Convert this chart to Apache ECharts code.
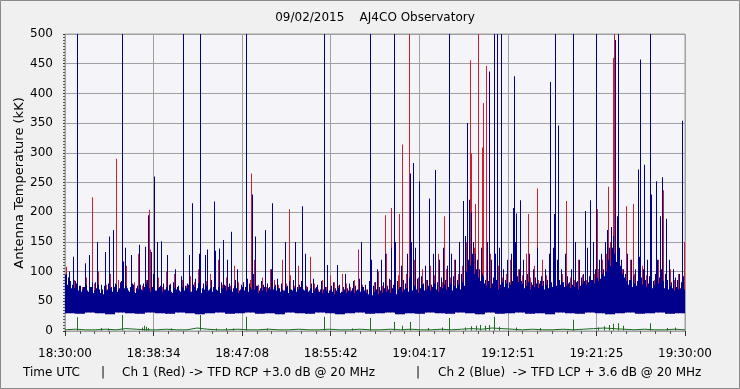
<!DOCTYPE html>
<html><head><meta charset="utf-8">
<script src="https://cdn.jsdelivr.net/npm/echarts@6/dist/echarts.min.js"></script>
<style>html,body{margin:0;padding:0;background:#F0F0F0}#c{width:740px;height:389px}</style>
</head><body><div id="c"></div><script>
// ---- tick labels ----
const tickLabels = ['18:30:00','18:38:34','18:47:08','18:55:42','19:04:17','19:12:51','19:21:25','19:30:00'];
const yMin = 0, yMax = 500, yStep = 50;

// ---- Ch 2 (blue): per 2 px bin, first pixel top (strokes) ----
const blueTop = [
95,78,100,72,125,84,120,76,66,74, 114,68,128,74,64,82,150,70,78,62,
133,70,159,74,170,80,66,72,84,117, 140,72,66,128,78,64,76,145,70,80,
142,86,72,133,96,68,150,74,151,80, 70,128,78,66,82,104,74,68,92,145,
76,80,128,66,78,88,72,130,64,80, 128,137,70,86,74,135,68,139,82,153,
76,120,80,167,72,86,104,68,78,82, 74,88,80,70,96,159,76,68,84,78,
170,80,74,104,70,78,88,72,80,68, 150,76,84,70,86,150,74,78,84,70,
130,74,68,80,88,72,78,66,84,70, 74,111,68,76,82,72,111,78,66,74,
96,72,80,68,84,76,70,88,150,74, 78,70,84,120,76,82,104,74,120,82,
130,76,88,140,78,150,84,74,110,86, 80,130,90,150,78,140,88,120,92,80,
110,86,140,78,130,92,82,120,90,140, 86,110,82,130,92,120,86,150,96,140,
160,190,175,200,150,130,120,104,140,92, 86,150,104,120,90,130,86,140,92,104,
86,120,82,130,90,150,92,104,84,120, 86,96,130,82,104,90,140,80,92,84,
104,86,130,82,140,92,120,86,104,82, 130,92,82,104,86,150,84,120,90,96,
84,140,92,86,150,104,90,120,130,104, 150,170,140,175,160,150,130,140,120,104,
96,130,86,120,92,104,84,125,90,104, 86,120,92,130,84,96,120,90,104,84,
96,86,120,82,104,90,86,96,82,92
];
// ---- Ch 2 (blue): per 2 px bin, second pixel top (dense part) ----
const blueTop2 = [
96,90,84,78,72,80,68,76,70,74, 78,66,74,82,68,72,78,64,70,76,
68,80,72,66,74,78,70,82,64,72, 76,68,74,80,66,72,70,78,68,74,
80,70,66,74,78,68,72,76,66,70, 74,68,78,64,72,70,76,66,74,68,
72,78,66,70,74,68,80,64,72,70, 76,68,72,66,78,70,74,64,72,78,
68,74,70,66,76,72,64,70,74,68, 72,66,74,68,70,76,64,72,68,74,
66,72,70,64,74,68,72,66,70,68, 74,64,70,68,72,66,70,74,64,68,
70,66,72,64,68,74,66,70,64,72, 68,64,70,66,62,68,72,64,66,70,
64,68,66,72,64,68,70,66,74,68, 64,62,68,60,66,70,62,68,64,72,
66,70,64,72,68,62,70,74,66,70, 72,66,74,68,76,70,64,72,78,68,
70,76,68,74,80,70,66,74,72,78, 70,74,80,68,76,72,78,70,82,76,
100,120,110,130,96,104,90,84,96,80, 76,84,72,80,74,86,70,78,82,74,
80,72,78,84,70,76,82,74,80,72, 76,82,70,78,74,80,72,84,76,70,
78,72,80,74,84,76,70,78,82,74, 76,80,72,78,74,82,70,76,80,84,
78,82,76,86,80,90,84,88,96,92, 100,120,110,140,130,116,104,110,96,90,
84,78,86,74,80,76,82,72,78,80, 74,80,76,72,78,74,80,70,76,72,
74,70,76,72,68,74,70,72,66,70
];
// band floor per 10 px
const blueFloor = [
30,29,31,30,28,31,30,29,31,30, 29,31,30,28,30,31,29,30,31,29,
30,28,31,30,29,31,30,28,30,31, 29,30,31,28,30,29,31,30,29,31,
30,28,31,29,30,31,29,30,28,31, 30,29,31,30,28,30,31,29,30,31,
29,30
];
// ---- Ch 1 (red): stroke top value per 4 px bin ----
const redTop = [
108,70,86,62,74,90,66,80,100,64, 78,96,64,86,72,110,68,82,130,76,
86,137,78,90,74,100,80,96,70,86, 76,92,82,104,70,84,96,74,120,78,
90,76,110,82,74,96,86,120,78,90, 74,104,86,78,120,80,94,76,110,82,
76,125,80,70,86,74,94,82,76,96, 80,74,86,137,78,70,90,82,100,76,
130,86,104,94,140,96,86,120,90,104, 86,110,94,130,82,104,90,120,96,110,
150,130,140,110,120,104,130,96,110,90, 96,120,86,104,94,130,90,110,86,120,
94,104,86,130,96,110,90,86,120,94, 86,110,96,104,120,130,150,140,120,104,
90,120,96,86,110,94,104,86,120,96, 90,104,86,96,120
];
// ---- spikes: minutes after 18:30:00 and value (kK) ----
const blueSpikeMin = [1.16,5.47,8.03,8.64,11.38,12.29,13.10,14.39,17.52,18.13,20.03,22.96,25.06,29.56,31.87,33.36,33.71,34.29,35.25,35.84,37.19,38.55,38.93,39.05,41.03,41.55,41.84,42.22,43.38,43.48,43.65,44.06,46.96,47.35,47.45,47.74,49.19,50.35,50.81,51.36,53.23,53.39,53.55,55.48,55.67,56.06,56.64,56.71,57.22,57.55,57.80,58.19,59.74];
const blueSpikeVal = [500,500,195,260,500,215,500,218,500,230,215,210,500,500,500,265,283,252,223,271,500,219,350,221,437,500,500,500,207,429,198,220,419,197,500,346,500,202,220,500,490,193,500,272,457,280,500,230,252,193,259,189,354];
const redSpikeMin = [2.61,4.89,8.13,17.98,21.65,30.97,31.52,32.32,32.64,33.32,36.71,39.22,39.29,39.71,40.00,40.33,40.48,40.77,44.84,45.71,48.51,51.51,52.58,53.06,53.16,54.32,55.00,57.87,59.90];
const redSpikeVal = [225,290,204,265,205,195,207,197,314,500,193,456,299,214,500,309,384,446,197,240,219,205,243,460,500,210,214,237,150];
// ---- green reference channel ----
const greenBase = [
2,3,2,2,3,2,4,3,2,2, 3,2,2,5,3,2,2,3,2,2, 3,2,2,3,2,2,3,2,2,3,
2,2,3,2,3,2,2,3,2,3, 4,3,5,4,3,2,3,2,2,3, 2,3,4,5,4,3,2,3,2,2,
3,2
];
const greenSpikeMin = [1.16,3.5,4.2,5.47,7.45,7.65,7.85,8.05,10.3,13.10,14.6,15.6,16.3,17.52,19.5,25.06,27.8,29.56,31.84,32.6,33.39,35.1,36.5,37.19,38.7,39.3,39.8,40.2,40.6,41.0,41.52,42.0,43.6,46.0,49.19,51.6,52.2,52.6,53.0,53.52,54.0,56.61,58.3,59.0];
const greenSpikeVal = [23,5,4,27,6,9,7,5,4,27,4,5,4,24,4,24,4,22,15,9,15,5,6,22,6,8,9,10,9,10,24,7,6,5,19,6,8,10,12,13,9,13,5,6];

// ---- build ----
const X = m => m * 7 / 60;
function pick(arr, i, n){ return arr[Math.min(arr.length-1, Math.floor(i*arr.length/n))]; }
function bandData(tops, tops2, floors){
  const n = tops.length;
  return tops.map((t,i)=>[X((i+0.5)*60/n), pick(floors,i,n), t, tops2 ? tops2[i] : null]);
}
function bandRender(color){
  return function(params, api){
    const x = api.value(0);
    const pTop = api.coord([x, api.value(2)]);
    const pBot = api.coord([x, api.value(1)]);
    const x0 = Math.round(pTop[0] - 1);
    const kids = [{type:'rect', shape:{x:x0, y:pTop[1], width:1, height:pBot[1]-pTop[1]}, style:{fill:color}}];
    const v2 = api.value(3);
    if (!isNaN(v2) && v2 !== null) {
      const p2 = api.coord([x, v2]);
      kids.push({type:'rect', shape:{x:x0+1, y:p2[1], width:1, height:pBot[1]-p2[1]}, style:{fill:color}});
    }
    return {type:'group', children:kids};
  };
}
function pairs(ms, vs){ return ms.map((m,i)=>[X(m), vs[i]]); }
function spikeRender(color, base){
  return function(params, api){
    const p = api.coord([api.value(0), api.value(1)]);
    const b = api.coord([api.value(0), base]);
    return {type:'rect', shape:{x:Math.round(p[0]), y:p[1], width:1, height:b[1]-p[1]}, style:{fill:color}};
  };
}
const BLUE='#00008C', RED='#CC2030', GREEN='#1E6B1E';
const FONT='DejaVu Sans';
const chart = echarts.init(document.getElementById('c'), null, {renderer:'canvas'});
chart.setOption({
  animation:false,
  backgroundColor:'#F0F0F0',
  grid:{left:65, right:55, top:34, bottom:58, show:true, backgroundColor:'#F4F4F9', borderColor:'#A0A0A0', borderWidth:1},
  xAxis:{type:'value', min:0, max:7, interval:1, offset:6,
    axisLine:{show:false},
    axisTick:{show:true, length:5, lineStyle:{color:'#333'}},
    minorTick:{show:true, splitNumber:6, length:3, lineStyle:{color:'#555'}},
    axisLabel:{formatter:v=>tickLabels[Math.round(v)], color:'#000', fontFamily:FONT, fontSize:12, margin:11, showMinLabel:true, showMaxLabel:true},
    splitLine:{show:true, lineStyle:{color:'#A0A0A0'}}},
  yAxis:{type:'value', min:yMin, max:yMax, interval:yStep, offset:6,
    axisLine:{show:false},
    axisTick:{show:true, length:2, lineStyle:{color:'#333'}},
    minorTick:{show:true, splitNumber:10, length:2, lineStyle:{color:'#555'}},
    axisLabel:{color:'#000', fontFamily:FONT, fontSize:12, margin:6},
    splitLine:{show:true, lineStyle:{color:'#A0A0A0'}}},
  graphic:[
    {type:'rect', shape:{x:0.5,y:0.5,width:739,height:388}, style:{fill:null, stroke:'#8A8A8A', lineWidth:1}, silent:true},
    {type:'text', x:375, y:18, style:{text:'09/02/2015    AJ4CO Observatory', font:'12px '+FONT, fill:'#000', textAlign:'center', textVerticalAlign:'middle'}},
    {type:'text', x:20, y:183, rotation:Math.PI/2, style:{text:'Antenna Temperature (kK)', font:'13px '+FONT, fill:'#000', textAlign:'center', textVerticalAlign:'middle'}},
    {type:'text', x:23, y:373, style:{text:'Time UTC', font:'12px '+FONT, fill:'#000', textVerticalAlign:'middle'}},
    {type:'text', x:103, y:373, style:{text:'|', font:'12px '+FONT, fill:'#000', textAlign:'center', textVerticalAlign:'middle'}},
    {type:'text', x:122, y:373, style:{text:'Ch 1 (Red) -> TFD RCP +3.0 dB @ 20 MHz', font:'12px '+FONT, fill:'#000', textVerticalAlign:'middle'}},
    {type:'text', x:418, y:373, style:{text:'|', font:'12px '+FONT, fill:'#000', textAlign:'center', textVerticalAlign:'middle'}},
    {type:'text', x:438, y:373, style:{text:'Ch 2 (Blue)  -> TFD LCP + 3.6 dB @ 20 MHz', font:'12px '+FONT, fill:'#000', textVerticalAlign:'middle'}}
  ],
  series:[
    {type:'custom', clip:true, data:bandData(redTop, null, blueFloor), renderItem:bandRender(RED), encode:{x:0,y:2}, silent:true},
    {type:'custom', clip:true, data:pairs(redSpikeMin, redSpikeVal), renderItem:spikeRender(RED, 40), encode:{x:0,y:1}, silent:true},
    {type:'custom', clip:true, data:bandData(blueTop, blueTop2, blueFloor), renderItem:bandRender(BLUE), encode:{x:0,y:2}, silent:true},
    {type:'custom', clip:true, data:pairs(blueSpikeMin, blueSpikeVal), renderItem:spikeRender(BLUE, 40), encode:{x:0,y:1}, silent:true},
    {type:'line', data:greenBase.map((v,i)=>[X(i*60/(greenBase.length-1)), v]), symbol:'none', lineStyle:{color:GREEN, width:1}, silent:true},
    {type:'custom', clip:true, data:pairs(greenSpikeMin, greenSpikeVal), renderItem:spikeRender(GREEN, 1), encode:{x:0,y:1}, silent:true}
  ]
});
</script></body></html>
